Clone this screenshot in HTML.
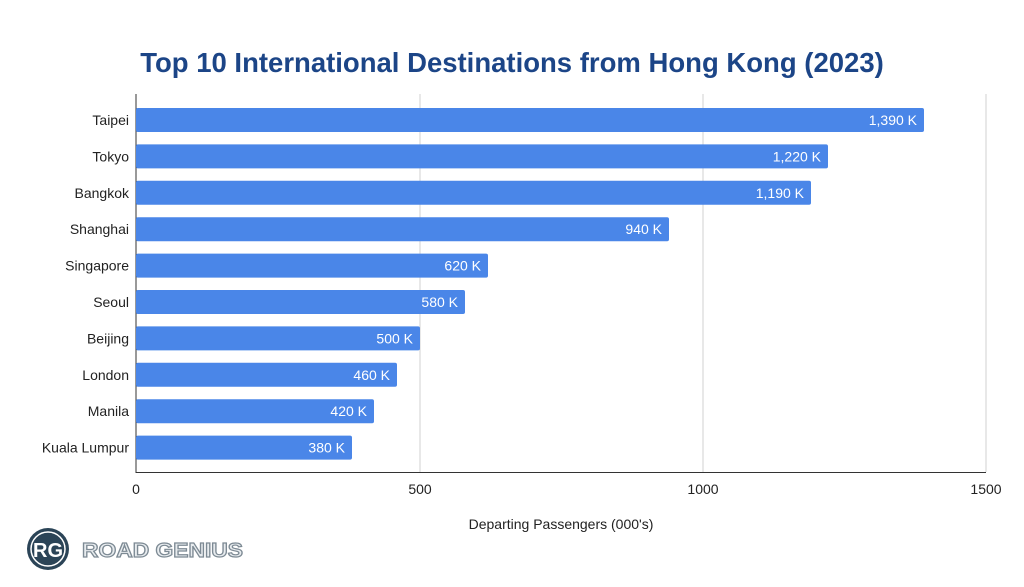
<!DOCTYPE html>
<html><head><meta charset="utf-8"><style>
body{margin:0;background:#fff;}
svg text{font-family:"Liberation Sans",Arial,sans-serif;}
</style></head><body>
<svg width="1024" height="582" xmlns="http://www.w3.org/2000/svg">
<rect width="1024" height="582" fill="#fff"/>
<text x="512" y="72" text-anchor="middle" font-size="27.5" font-weight="bold" fill="#1c4587">Top 10 International Destinations from Hong Kong (2023)</text>
<g stroke="#d0d0d0" stroke-width="1">
<line x1="420" y1="94" x2="420" y2="472"/>
<line x1="703" y1="94" x2="703" y2="472"/>
<line x1="986" y1="94" x2="986" y2="472"/>
</g>
<line x1="136" y1="94" x2="136" y2="473" stroke="#333" stroke-width="1"/>
<line x1="136" y1="472.5" x2="986" y2="472.5" stroke="#333" stroke-width="1"/>
<g fill="#4a86e8">
<rect x="136" y="108" width="788" height="24" rx="2"/>
<rect x="136" y="144.4" width="692" height="24" rx="2"/>
<rect x="136" y="180.8" width="675" height="24" rx="2"/>
<rect x="136" y="217.2" width="533" height="24" rx="2"/>
<rect x="136" y="253.6" width="352" height="24" rx="2"/>
<rect x="136" y="290" width="329" height="24" rx="2"/>
<rect x="136" y="326.4" width="284" height="24" rx="2"/>
<rect x="136" y="362.8" width="261" height="24" rx="2"/>
<rect x="136" y="399.2" width="238" height="24" rx="2"/>
<rect x="136" y="435.6" width="216" height="24" rx="2"/>
</g>
<g font-size="14" fill="#fff" text-anchor="end">
<text x="917" y="125">1,390 K</text>
<text x="821" y="161.4">1,220 K</text>
<text x="804" y="197.8">1,190 K</text>
<text x="662" y="234.2">940 K</text>
<text x="481" y="270.6">620 K</text>
<text x="458" y="307">580 K</text>
<text x="413" y="343.4">500 K</text>
<text x="390" y="379.8">460 K</text>
<text x="367" y="416.2">420 K</text>
<text x="345" y="452.6">380 K</text>
</g>
<g font-size="14" fill="#222" text-anchor="end">
<text x="129" y="125">Taipei</text>
<text x="129" y="161.4">Tokyo</text>
<text x="129" y="197.8">Bangkok</text>
<text x="129" y="234.2">Shanghai</text>
<text x="129" y="270.6">Singapore</text>
<text x="129" y="307">Seoul</text>
<text x="129" y="343.4">Beijing</text>
<text x="129" y="379.8">London</text>
<text x="129" y="416.2">Manila</text>
<text x="129" y="452.6">Kuala Lumpur</text>
</g>
<g font-size="14" fill="#222" text-anchor="middle">
<text x="136" y="494">0</text>
<text x="420" y="494">500</text>
<text x="703" y="494">1000</text>
<text x="986" y="494">1500</text>
<text x="561" y="529">Departing Passengers (000's)</text>
</g>
<circle cx="48" cy="549" r="21" fill="#2b4457"/>
<circle cx="48" cy="549" r="17" fill="none" stroke="#fff" stroke-width="1.5"/>
<text x="48" y="557" text-anchor="middle" font-size="20" font-weight="bold" fill="#fff">RG</text>
<text x="82" y="557" font-size="20" font-weight="bold" fill="#e8ecef" stroke="#7d8a94" stroke-width="1.2" textLength="161" lengthAdjust="spacingAndGlyphs">ROAD GENIUS</text>
</svg>
</body></html>
